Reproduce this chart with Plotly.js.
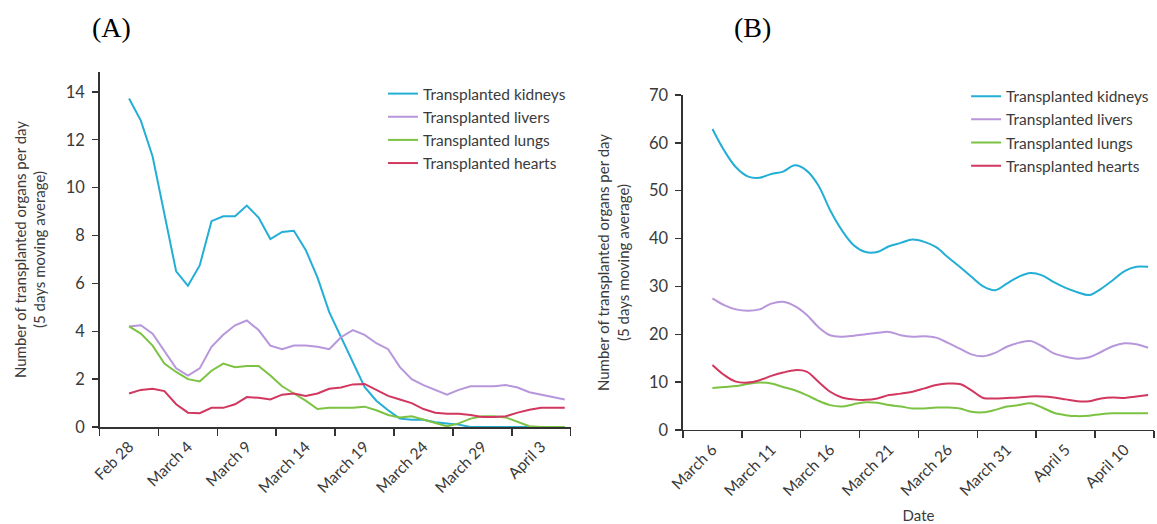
<!DOCTYPE html>
<html>
<head>
<meta charset="utf-8">
<script src="https://cdn.plot.ly/plotly-3.0.1.min.js"></script>
<style>html,body{margin:0;padding:0;background:#fff;}#chart{width:1157px;height:524px;}</style>
</head>
<body>
<div id="chart"></div>
<script>
// ---------- Panel A data (Feb 28 - April 5) ----------
const datesA = ['2020-02-28','2020-02-29','2020-03-01','2020-03-02','2020-03-03','2020-03-04','2020-03-05','2020-03-06','2020-03-07','2020-03-08','2020-03-09','2020-03-10','2020-03-11','2020-03-12','2020-03-13','2020-03-14','2020-03-15','2020-03-16','2020-03-17','2020-03-18','2020-03-19','2020-03-20','2020-03-21','2020-03-22','2020-03-23','2020-03-24','2020-03-25','2020-03-26','2020-03-27','2020-03-28','2020-03-29','2020-03-30','2020-03-31','2020-04-01','2020-04-02','2020-04-03','2020-04-04','2020-04-05'];
const kidneysA = [13.72,12.8,11.3,8.9,6.5,5.9,6.75,8.6,8.8,8.8,9.25,8.75,7.85,8.15,8.2,7.4,6.25,4.8,3.75,2.65,1.67,1.1,0.7,0.35,0.3,0.3,0.2,0.15,0.1,0,0,0,0,0,0,0,0,0];
const liversA = [4.2,4.25,3.9,3.2,2.45,2.15,2.45,3.35,3.85,4.25,4.45,4.05,3.4,3.25,3.4,3.4,3.35,3.25,3.75,4.05,3.85,3.5,3.25,2.5,2.0,1.75,1.55,1.35,1.55,1.7,1.7,1.7,1.75,1.65,1.45,1.35,1.25,1.15];
const lungsA = [4.2,3.9,3.4,2.65,2.3,2.0,1.9,2.35,2.65,2.5,2.55,2.55,2.15,1.7,1.4,1.1,0.75,0.8,0.8,0.8,0.85,0.7,0.5,0.4,0.45,0.3,0.15,0.03,0.15,0.35,0.45,0.45,0.4,0.2,0.03,0,0,0];
const heartsA = [1.4,1.55,1.6,1.5,0.95,0.6,0.58,0.8,0.8,0.95,1.25,1.22,1.15,1.35,1.4,1.3,1.4,1.6,1.65,1.78,1.8,1.55,1.3,1.15,1.0,0.75,0.6,0.55,0.55,0.5,0.42,0.42,0.45,0.6,0.72,0.8,0.8,0.8];
const tickDatesA = ['2020-02-28','2020-03-04','2020-03-09','2020-03-14','2020-03-19','2020-03-24','2020-03-29','2020-04-03'];
const tickLabelsA = ['Feb 28','March 4','March 9','March 14','March 19','March 24','March 29','April 3'];

// ---------- Panel B data (March 6 - April 12) ----------
const datesB = ['2020-03-06','2020-03-07','2020-03-08','2020-03-09','2020-03-10','2020-03-11','2020-03-12','2020-03-13','2020-03-14','2020-03-15','2020-03-16','2020-03-17','2020-03-18','2020-03-19','2020-03-20','2020-03-21','2020-03-22','2020-03-23','2020-03-24','2020-03-25','2020-03-26','2020-03-27','2020-03-28','2020-03-29','2020-03-30','2020-03-31','2020-04-01','2020-04-02','2020-04-03','2020-04-04','2020-04-05','2020-04-06','2020-04-07','2020-04-08','2020-04-09','2020-04-10','2020-04-11','2020-04-12'];
const kidneysB = [62.9,58.4,54.9,53.0,52.7,53.5,54.0,55.3,54.2,51.1,45.9,41.7,38.6,37.2,37.2,38.4,39.1,39.8,39.3,38.2,36.1,34.1,32.0,30.0,29.2,30.6,32.0,32.8,32.3,30.9,29.7,28.8,28.2,29.5,31.3,33.2,34.1,34.1];
const liversB = [27.5,26.1,25.2,24.9,25.2,26.4,26.8,25.9,24.1,21.5,19.8,19.5,19.7,20.0,20.3,20.5,19.8,19.5,19.6,19.3,18.2,17.0,15.8,15.4,16.1,17.4,18.2,18.6,17.5,16.0,15.3,14.9,15.2,16.3,17.5,18.1,17.9,17.2];
const lungsB = [8.8,9.0,9.2,9.6,9.9,9.7,9.0,8.3,7.3,6.1,5.2,4.9,5.4,5.8,5.7,5.2,4.9,4.5,4.5,4.7,4.7,4.5,3.8,3.7,4.2,4.9,5.2,5.6,4.7,3.6,3.1,2.9,3.0,3.3,3.5,3.5,3.5,3.5];
const heartsB = [13.6,11.5,10.1,9.9,10.4,11.3,12.0,12.5,12.2,10.1,8.0,6.8,6.4,6.3,6.6,7.3,7.6,8.0,8.7,9.4,9.7,9.6,8.3,6.7,6.6,6.7,6.8,7.0,7.0,6.8,6.4,6.0,6.0,6.6,6.8,6.7,7.0,7.3];
const tickDatesB = ['2020-03-06','2020-03-11','2020-03-16','2020-03-21','2020-03-26','2020-03-31','2020-04-05','2020-04-10'];
const tickLabelsB = ['March 6','March 11','March 16','March 21','March 26','March 31','April 5','April 10'];

const seriesNames = ['Transplanted kidneys','Transplanted livers','Transplanted lungs','Transplanted hearts'];

// ---------- styling ----------
const colors = ['#23aed6','#b796dc','#7cc243','#d1375f'];
const FONT = 'Lato, "Open Sans", sans-serif';
const axisColor = '#333';
const textColor = '#3a3a3a';

// tick-mark boundaries (periods of 5 days, labels centred in each period)
const boundsA = ['2020-02-25 12:00','2020-03-01 12:00','2020-03-06 12:00','2020-03-11 12:00','2020-03-16 12:00','2020-03-21 12:00','2020-03-26 12:00','2020-03-31 12:00','2020-04-05 12:00'];
const boundsB = ['2020-03-03 12:00','2020-03-08 12:00','2020-03-13 12:00','2020-03-18 12:00','2020-03-23 12:00','2020-03-28 12:00','2020-04-02 12:00','2020-04-07 12:00','2020-04-12 12:00'];

const seriesA = [kidneysA, liversA, lungsA, heartsA];
const seriesB = [kidneysB, liversB, lungsB, heartsB];

const traces = [];
seriesA.forEach((ys, i) => traces.push({
  x: datesA, y: ys, name: seriesNames[i], type: 'scatter', mode: 'lines',
  xaxis: 'x', yaxis: 'y', legend: 'legend',
  line: {color: colors[i], width: 2, shape: 'linear'}
}));
seriesB.forEach((ys, i) => traces.push({
  x: datesB, y: ys, name: seriesNames[i], type: 'scatter', mode: 'lines',
  xaxis: 'x2', yaxis: 'y2', legend: 'legend2',
  line: {color: colors[i], width: 2, shape: 'spline', smoothing: 1}
}));

function xAxis(domain, range, tickDates, tickLabels, bounds, anchor, titleText) {
  return {
    type: 'date', domain: domain, range: range, anchor: anchor,
    showline: true, linecolor: axisColor, linewidth: 1.5,
    showgrid: false, zeroline: false,
    tickmode: 'array', tickvals: tickDates, ticktext: tickLabels,
    ticks: '', tickangle: -45, ticklabelstandoff: 3,
    tickfont: {family: FONT, size: 15.5, color: textColor},
    minor: {tickmode: 'array', tickvals: bounds, ticks: 'outside', ticklen: 7, tickwidth: 1.5, tickcolor: axisColor, showgrid: false},
    title: {text: titleText, font: {family: FONT, size: 15, color: textColor}, standoff: 14},
    fixedrange: true
  };
}
function yAxis(domain, range, dtick, anchor) {
  return {
    domain: domain, range: range, anchor: anchor,
    tickmode: 'linear', tick0: 0, dtick: dtick,
    showline: true, linecolor: axisColor, linewidth: 1.5,
    showgrid: false, zeroline: false,
    ticks: 'outside', ticklen: 6, tickwidth: 1.5, tickcolor: axisColor, ticklabelstandoff: 4,
    tickfont: {family: FONT, size: 16.5, color: textColor},
    title: {text: 'Number of transplanted organs per day<br>(5 days moving average)', font: {family: FONT, size: 15, color: textColor}, standoff: 16},
    fixedrange: true
  };
}

const layout = {
  width: 1157, height: 524, autosize: false,
  margin: {l: 0, r: 0, t: 0, b: 0},
  paper_bgcolor: '#fff', plot_bgcolor: '#fff',
  font: {family: FONT, color: textColor},
  xaxis: xAxis([0.0861, 0.4932], ['2020-02-25 12:00','2020-04-05 12:00'], tickDatesA, tickLabelsA, boundsA, 'y', ''),
  yaxis: yAxis([0.1851, 0.8626], [0, 14.83], 2, 'x'),
  xaxis2: xAxis([0.5903, 0.9974], ['2020-03-03 12:00','2020-04-12 12:00'], tickDatesB, tickLabelsB, boundsB, 'y2', 'Date'),
  yaxis2: yAxis([0.1794, 0.8187], [0, 70], 10, 'x2'),
  showlegend: true,
  legend: {x: 0.331, y: 0.853, xanchor: 'left', yanchor: 'top', bgcolor: 'rgba(0,0,0,0)', borderwidth: 0,
           font: {family: FONT, size: 15.5, color: textColor}, tracegroupgap: 0},
  legend2: {x: 0.835, y: 0.848, xanchor: 'left', yanchor: 'top', bgcolor: 'rgba(0,0,0,0)', borderwidth: 0,
           font: {family: FONT, size: 15.5, color: textColor}, tracegroupgap: 0},
  annotations: [
    {text: '(A)', xref: 'paper', yref: 'paper', x: 0.0968, y: 0.9466, xanchor: 'center', yanchor: 'middle', showarrow: false,
     font: {family: '"Liberation Serif", "DejaVu Serif", serif', size: 28, color: '#000'}},
    {text: '(B)', xref: 'paper', yref: 'paper', x: 0.6508, y: 0.9466, xanchor: 'center', yanchor: 'middle', showarrow: false,
     font: {family: '"Liberation Serif", "DejaVu Serif", serif', size: 28, color: '#000'}}
  ]
};

Plotly.newPlot('chart', traces, layout, {staticPlot: true, displayModeBar: false});
</script>
</body>
</html>
